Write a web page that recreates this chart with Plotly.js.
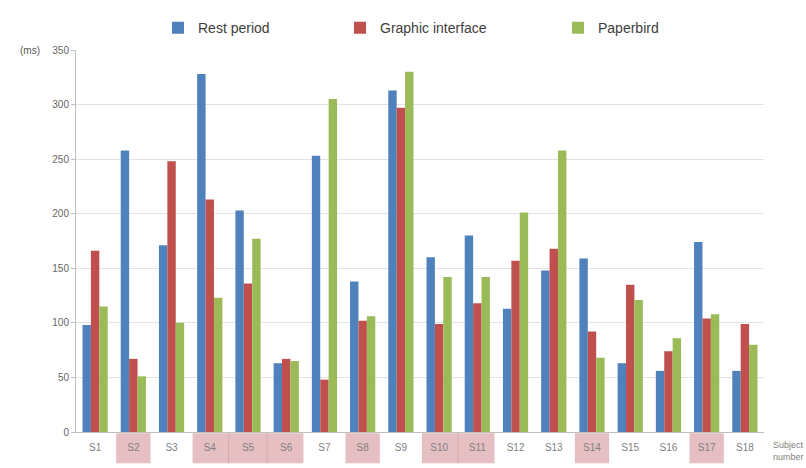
<!DOCTYPE html>
<html>
<head>
<meta charset="utf-8">
<script src="https://cdn.plot.ly/plotly-3.0.1.min.js"></script>
<style>html,body{margin:0;padding:0;background:#fff;}#chart{width:806px;height:468px;}</style>
</head>
<body>
<div id="chart"></div>
<script>
const subjects = ['S1','S2','S3','S4','S5','S6','S7','S8','S9','S10','S11','S12','S13','S14','S15','S16','S17','S18'];
const restPeriod       = [98, 258, 171, 328, 203, 63, 253, 138, 313, 160, 180, 113, 148, 159, 63, 56, 174, 56];
const graphicInterface = [166, 67, 248, 213, 136, 67, 48, 102, 297, 99, 118, 157, 168, 92, 135, 74, 104, 99];
const paperbird        = [115, 51, 100, 123, 177, 65, 305, 106, 330, 142, 142, 201, 258, 68, 121, 86, 108, 80];
const highlighted = ['S2','S4','S5','S6','S8','S10','S11','S14','S17'];
const seriesNames = ['Rest period', 'Graphic interface', 'Paperbird'];
const yTicks = [0, 50, 100, 150, 200, 250, 300, 350];

const colors = ['#4F81BD', '#C0504D', '#9BBB59'];
const values = [restPeriod, graphicInterface, paperbird];
const legendIds = ['legend', 'legend2', 'legend3'];

const traces = values.map((v, i) => ({
  type: 'bar',
  name: seriesNames[i],
  x: subjects,
  y: v,
  marker: {color: colors[i]},
  legend: legendIds[i],
  hoverinfo: 'x+y+name'
}));

const shapes = [];
highlighted.forEach(s => {
  const idx = subjects.indexOf(s);
  const prevHi = highlighted.indexOf(subjects[idx - 1]) >= 0;
  const nextHi = highlighted.indexOf(subjects[idx + 1]) >= 0;
  shapes.push({
    type: 'rect', xref: 'x', yref: 'paper', layer: 'below',
    x0: idx - (prevHi ? 0.5 : 0.45), x1: idx + (nextHi ? 0.5 : 0.45), y0: -0.003, y1: -0.082,
    fillcolor: '#e2b4b8', opacity: 0.85, line: {width: 0}
  });
  if (nextHi) {
    shapes.push({
      type: 'line', xref: 'x', yref: 'paper', layer: 'below',
      x0: idx + 0.5, x1: idx + 0.5, y0: -0.003, y1: -0.082,
      line: {color: '#cf9ea3', width: 1}
    });
  }
});

const legendBase = {
  orientation: 'h', yanchor: 'middle', y: 1.057, xanchor: 'left',
  font: {family: 'Liberation Sans, Arial, sans-serif', size: 14, color: '#404040'},
  bgcolor: 'rgba(0,0,0,0)'
};

const layout = {
  width: 806, height: 468,
  margin: {l: 76, r: 42, t: 47, b: 36},
  paper_bgcolor: '#ffffff', plot_bgcolor: '#ffffff',
  barmode: 'group', bargap: 0.34, bargroupgap: 0,
  font: {family: 'Liberation Sans, Arial, sans-serif', color: '#595959'},
  showlegend: true,
  legend: Object.assign({}, legendBase, {x: (158 - 76) / 688}),
  legend2: Object.assign({}, legendBase, {x: (340 - 76) / 688}),
  legend3: Object.assign({}, legendBase, {x: (558 - 76) / 688}),
  xaxis: {
    type: 'category',
    showgrid: false,
    showline: true, linecolor: '#bfbfbf', linewidth: 1,
    ticks: 'outside', ticklen: 6, tickcolor: 'rgba(0,0,0,0)',
    tickfont: {size: 10, color: '#7f7f7f'},
    fixedrange: true
  },
  yaxis: {
    range: [0, 350],
    tickvals: yTicks,
    showgrid: true, gridcolor: '#e3e3e3', gridwidth: 1,
    showline: true, linecolor: '#bfbfbf', linewidth: 1,
    ticks: 'outside', ticklen: 4, tickcolor: '#bfbfbf',
    tickfont: {size: 10, color: '#666666'},
    zeroline: false,
    fixedrange: true
  },
  shapes: shapes,
  annotations: [
    {text: '(ms)', xref: 'paper', yref: 'paper', x: -0.05, y: 1.0, xanchor: 'right', yanchor: 'middle',
     showarrow: false, font: {size: 10, color: '#595959'}},
    {text: 'Subject<br>number', xref: 'paper', yref: 'paper', x: 1.01, y: -0.015, xanchor: 'left', yanchor: 'top',
     align: 'left', showarrow: false, font: {size: 9, color: '#7f7f7f'}}
  ]
};

Plotly.newPlot('chart', traces, layout, {displayModeBar: false});
</script>
</body>
</html>
